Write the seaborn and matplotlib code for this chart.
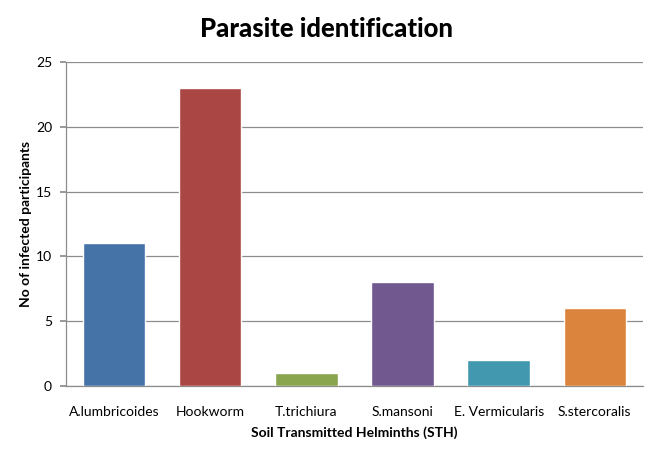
import matplotlib
matplotlib.use("Agg")
import matplotlib.pyplot as plt
import seaborn as sns
import pandas as pd

# data
parasites = ['A.lumbricoides', 'Hookworm', 'T.trichiura', 'S.mansoni', 'E. Vermicularis', 'S.stercoralis']
infected = [11, 23, 1, 8, 2, 6]
bar_colors = ['#4572A7', '#AA4643', '#89A54E', '#71588F', '#4198AF', '#DB843D']
y_ticks = [0, 5, 10, 15, 20, 25]

sns.set_theme(style='white')
plt.rcParams['font.family'] = ['Lato', 'DejaVu Sans']
plt.rcParams['text.color'] = 'black'
plt.rcParams['axes.labelcolor'] = 'black'
plt.rcParams['xtick.color'] = 'black'
plt.rcParams['ytick.color'] = 'black'

df = pd.DataFrame({'parasite': parasites, 'count': infected})

fig = plt.figure(figsize=(6.6, 4.51), dpi=100)
ax = fig.add_axes([0.1, 0.144, 0.874, 0.7185])

sns.barplot(data=df, x='parasite', y='count', hue='parasite', palette=bar_colors,
            legend=False, width=0.65, saturation=1, ax=ax, zorder=3)

ax.set_ylim(0, 25)
ax.set_yticks(y_ticks)
ax.yaxis.grid(True, color='#8c8c8c', linewidth=0.9, zorder=0)
ax.set_axisbelow(True)
for side in ['top', 'right']:
    ax.spines[side].set_visible(False)
for side in ['left', 'bottom']:
    ax.spines[side].set_color('#8c8c8c')
    ax.spines[side].set_linewidth(0.9)
ax.tick_params(axis='y', left=True, length=4, color='#8c8c8c', labelcolor='black', labelsize=10, pad=6)
ax.tick_params(axis='x', bottom=False, labelcolor='black', labelsize=10, pad=8)

ax.set_xlabel('Soil Transmitted Helminths (STH)', fontsize=10, fontweight='bold', labelpad=6)
ax.set_ylabel('No of infected participants', fontsize=10, fontweight='bold', labelpad=3)
fig.suptitle('Parasite identification', fontsize=18.5, fontweight='black', x=0.495, y=0.962)

fig.savefig('out.png', dpi=100)
